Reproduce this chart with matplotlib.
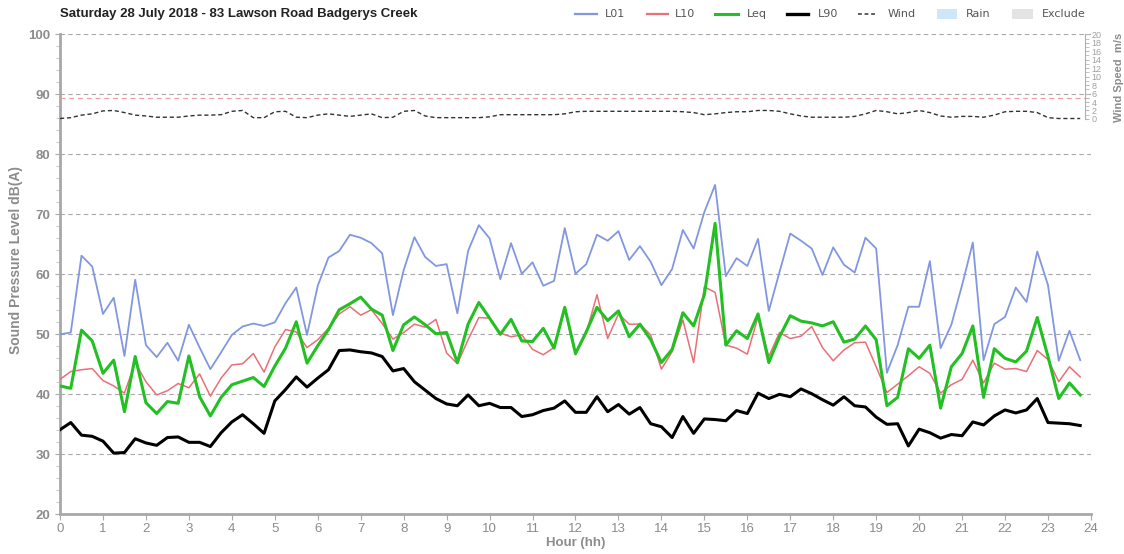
import numpy as np
import matplotlib.pyplot as plt
from matplotlib.lines import Line2D
from matplotlib.patches import Rectangle

# 15-minute intervals over the day
hours = np.arange(96) * 0.25

l01 = [50.0, 50.3, 63.1, 61.3, 53.4, 56.1, 46.4, 59.1, 48.2, 46.2, 48.6, 45.6,
       51.6, 47.8, 44.2, 47.0, 49.9, 51.3, 51.8, 51.4, 52.0, 55.2, 57.8, 49.9,
       58.1, 62.8, 63.9, 66.6, 66.1, 65.2, 63.5, 53.2, 60.7, 66.2, 62.9, 61.4,
       61.7, 53.5, 63.9, 68.2, 66.0, 59.2, 65.2, 60.1, 62.0, 58.1, 58.9, 67.7,
       60.1, 61.7, 66.6, 65.6, 67.2, 62.4, 64.7, 62.1, 58.2, 60.9, 67.4, 64.3,
       70.4, 74.9, 59.7, 62.7, 61.4, 65.9, 53.9, 60.4, 66.8, 65.6, 64.3, 59.9,
       64.5, 61.6, 60.3, 66.1, 64.3, 43.6, 48.2, 54.6, 54.6, 62.2, 47.7, 51.6,
       58.2, 65.3, 45.7, 51.7, 52.9, 57.8, 55.4, 63.8, 58.2, 45.6, 50.6, 45.7]

l10 = [42.5, 43.8, 44.1, 44.3, 42.3, 41.4, 40.2, 45.3, 42.1, 39.9, 40.6, 41.8,
       41.1, 43.4, 39.7, 42.7, 44.9, 45.1, 46.8, 43.7, 47.9, 50.8, 50.4, 47.8,
       49.1, 51.0, 53.4, 54.6, 53.2, 54.1, 51.8, 49.2, 50.3, 51.7, 51.2, 52.5,
       46.9, 45.1, 49.1, 52.8, 52.7, 50.2, 49.6, 49.9, 47.5, 46.6, 47.8, 54.3,
       46.6, 50.2, 56.6, 49.3, 53.4, 51.7, 51.7, 49.9, 44.2, 47.1, 52.4, 45.3,
       57.9, 57.0, 48.2, 47.7, 46.7, 52.9, 46.3, 50.3, 49.3, 49.7, 51.3, 47.8,
       45.6, 47.4, 48.6, 48.7, 44.6, 40.3, 41.7, 43.1, 44.6, 43.5, 40.2, 41.6,
       42.5, 45.7, 41.9, 45.2, 44.2, 44.3, 43.8, 47.3, 45.8, 42.1, 44.6, 42.9]

leq = [41.4, 41.0, 50.7, 48.9, 43.5, 45.7, 37.1, 46.3, 38.6, 36.8, 38.8, 38.5,
       46.4, 39.6, 36.4, 39.5, 41.6, 42.2, 42.8, 41.3, 44.7, 47.7, 52.1, 45.2,
       48.1, 50.8, 54.1, 55.1, 56.2, 54.2, 53.2, 47.3, 51.6, 52.9, 51.6, 50.1,
       50.3, 45.3, 51.7, 55.3, 52.7, 50.0, 52.5, 48.9, 48.8, 51.0, 47.7, 54.5,
       46.8, 50.4, 54.5, 52.3, 53.9, 49.6, 51.7, 49.1, 45.3, 47.5, 53.6, 51.4,
       56.6, 68.5, 48.2, 50.6, 49.3, 53.4, 45.3, 49.6, 53.1, 52.2, 51.9, 51.4,
       52.1, 48.7, 49.2, 51.4, 49.1, 38.1, 39.5, 47.6, 46.0, 48.2, 37.7, 44.6,
       46.8, 51.4, 39.5, 47.6, 46.0, 45.4, 47.2, 52.8, 46.3, 39.3, 41.9, 39.9]

l90 = [34.1, 35.3, 33.2, 33.0, 32.2, 30.2, 30.3, 32.6, 31.9, 31.5, 32.8, 32.9,
       32.0, 32.0, 31.3, 33.6, 35.4, 36.6, 35.1, 33.5, 38.9, 40.8, 42.9, 41.2,
       42.7, 44.1, 47.3, 47.4, 47.1, 46.9, 46.3, 43.9, 44.3, 42.1, 40.7, 39.3,
       38.4, 38.1, 39.9, 38.1, 38.5, 37.8, 37.8, 36.3, 36.6, 37.3, 37.7, 38.9,
       37.0, 37.0, 39.6, 37.1, 38.3, 36.7, 37.8, 35.1, 34.6, 32.8, 36.3, 33.5,
       35.9, 35.8, 35.6, 37.3, 36.8, 40.2, 39.3, 40.0, 39.6, 40.9, 40.1, 39.1,
       38.2, 39.6, 38.1, 37.9, 36.2, 35.0, 35.1, 31.4, 34.2, 33.6, 32.7, 33.3,
       33.1, 35.4, 34.9, 36.4, 37.4, 36.9, 37.4, 39.3, 35.3, 35.2, 35.1, 34.8]

# wind speed (m/s) on the secondary axis
wind = [0.1, 0.3, 0.9, 1.2, 1.9, 2.0, 1.5, 0.9, 0.7, 0.4, 0.4, 0.4,
        0.7, 0.9, 0.9, 1.0, 1.8, 2.0, 0.3, 0.3, 1.7, 1.8, 0.4, 0.3,
        0.9, 1.2, 0.9, 0.6, 0.9, 1.2, 0.3, 0.4, 1.8, 2.0, 0.7, 0.3,
        0.3, 0.3, 0.3, 0.3, 0.5, 1.0, 1.0, 1.0, 1.0, 1.0, 1.0, 1.2,
        1.7, 1.8, 1.8, 1.8, 1.8, 1.8, 1.8, 1.8, 1.8, 1.8, 1.7, 1.5,
        1.0, 1.2, 1.5, 1.7, 1.7, 2.0, 2.0, 1.8, 1.2, 0.7, 0.4, 0.4,
        0.4, 0.4, 0.6, 1.2, 2.0, 1.7, 1.2, 1.5, 2.0, 1.5, 0.7, 0.4,
        0.6, 0.6, 0.4, 0.9, 1.7, 1.8, 1.8, 1.5, 0.3, 0.1, 0.1, 0.1]
wind_limit = 5

title = "Saturday 28 July 2018 - 83 Lawson Road Badgerys Creek"
grey = '#8c8c8c'

plt.rcParams['font.family'] = ['Liberation Sans', 'DejaVu Sans']

fig = plt.figure(figsize=(11.24, 5.54), dpi=100)
ax = fig.add_axes([0.0534, 0.0716, 0.9172, 0.8664])

ax.plot(hours, l01, color='#8197e0', lw=1.3, zorder=3)
ax.plot(hours, l10, color='#ea6f78', lw=1.1, zorder=3)
ax.plot(hours, leq, color='#22c022', lw=2.2, zorder=4)
ax.plot(hours, l90, color='black', lw=2.2, zorder=5)

ax.set_xlim(0, 24)
ax.set_ylim(20, 100)
ax.set_xticks(range(25))
ax.set_yticks(range(20, 101, 10))
ax.set_yticks(range(20, 101, 2), minor=True)
for y in range(30, 101, 10):
    ax.axhline(y, color='#a8a8a8', lw=0.8, ls=(0, (4, 3)), zorder=1)

for side in ['top', 'right']:
    ax.spines[side].set_visible(False)
for side in ['left', 'bottom']:
    ax.spines[side].set_color('#a8a8a8')
    ax.spines[side].set_linewidth(2)
ax.tick_params(axis='both', colors='#a8a8a8', labelcolor=grey, labelsize=9.5)
ax.tick_params(axis='y', which='minor', length=3, color='#c0c0c0')
ax.tick_params(axis='x', length=4, pad=2)
for lbl in ax.get_yticklabels():
    lbl.set_fontweight('bold')

ax.set_xlabel("Hour (hh)", color=grey, fontsize=9.5, fontweight='bold', labelpad=2)
ax.set_ylabel("Sound Pressure Level dB(A)", color=grey, fontsize=10,
              fontweight='bold')
ax.yaxis.set_label_coords(-0.036, 0.53)

# wind speed sits in the top band of the chart
ax2 = ax.twinx()
ax2.set_ylim(-93.5, 20)
ax2.plot(hours, wind, color='#333333', lw=1.0, ls=(0, (3, 2)), zorder=3)
ax2.axhline(wind_limit, color='#f0a0a0', lw=0.9, ls=(0, (4, 3)), zorder=1)
ax2.set_yticks(range(0, 21, 2))
ax2.set_yticks(range(0, 21, 1), minor=True)
for side in ['top', 'left', 'bottom']:
    ax2.spines[side].set_visible(False)
ax2.spines['right'].set_bounds(0, 20)
ax2.spines['right'].set_position(('axes', 0.994))
ax2.spines['right'].set_color('#b0b0b0')
ax2.tick_params(axis='y', which='both', colors='#b8b8b8', labelcolor='#a0a0a0',
                labelsize=6.5, length=3, pad=2)
ax2.set_ylabel("Wind Speed  m/s", color=grey, fontsize=8, fontweight='bold',
               labelpad=2)
ax2.yaxis.set_label_coords(1.022, 0.91)

fig.text(60 / 1124, 1 - 14 / 554, title, fontsize=9.5, fontweight='bold',
         color='#222222', va='center', ha='left')

# legend row along the top
W, H = 1124, 554
ly = 1 - 14 / H
items = [
    ('line', 575, 597, 605, 'L01', dict(color='#8197e0', lw=1.6)),
    ('line', 647, 668, 675, 'L10', dict(color='#ea6f78', lw=1.6)),
    ('line', 715, 738, 747, 'Leq', dict(color='#22c022', lw=2.2)),
    ('line', 787, 808, 818, 'L90', dict(color='black', lw=2.4)),
    ('line', 858, 877, 888, 'Wind', dict(color='#333333', lw=1.1, ls=(0, (2.5, 1.8)))),
    ('patch', 937, 957, 966, 'Rain', dict(color='#cfe6f8')),
    ('patch', 1012, 1033, 1042, 'Exclude', dict(color='#e4e4e4')),
]
for kind, x0, x1, tx, label, style in items:
    if kind == 'line':
        fig.add_artist(Line2D([x0 / W, x1 / W], [ly, ly], **style))
    else:
        fig.add_artist(Rectangle((x0 / W, ly - 5 / H), (x1 - x0) / W, 10 / H,
                                 transform=fig.transFigure, lw=0, **style))
    fig.text(tx / W, ly, label, fontsize=8, color='#555555', va='center',
             ha='left', family=['DejaVu Sans'])

fig.savefig('out.png', dpi=100, facecolor='white')
